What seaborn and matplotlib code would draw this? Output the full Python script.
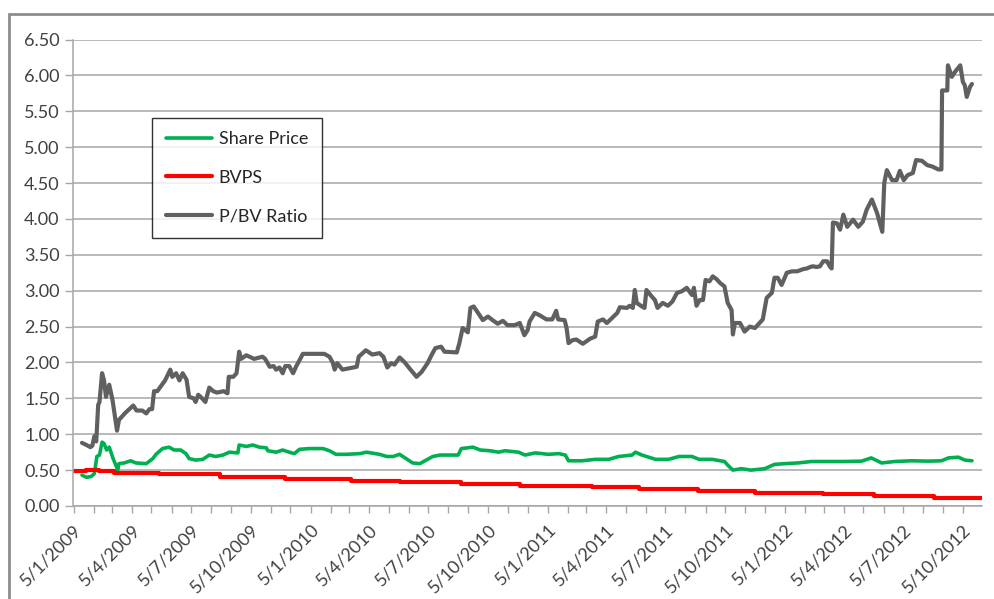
import pandas as pd
import matplotlib.pyplot as plt
import matplotlib.dates as mdates
from matplotlib.ticker import FuncFormatter
from matplotlib.patches import Rectangle
import seaborn as sns

# P/BV ratio
pbv_dates = [
    "2009-01-18", "2009-01-25", "2009-01-31", "2009-02-03", "2009-02-06", "2009-02-09",
    "2009-02-12", "2009-02-14", "2009-02-18", "2009-02-21", "2009-02-24", "2009-03-01",
    "2009-03-06", "2009-03-09", "2009-03-13", "2009-03-16", "2009-03-21", "2009-03-26",
    "2009-04-01", "2009-04-07", "2009-04-12", "2009-04-21", "2009-04-27", "2009-05-02",
    "2009-05-06", "2009-05-09", "2009-05-14", "2009-05-22", "2009-05-26", "2009-06-03",
    "2009-06-06", "2009-06-12", "2009-06-17", "2009-06-22", "2009-06-28", "2009-07-02",
    "2009-07-09", "2009-07-12", "2009-07-16", "2009-07-22", "2009-07-27", "2009-07-30",
    "2009-08-02", "2009-08-08", "2009-08-14", "2009-08-24", "2009-08-30", "2009-09-01",
    "2009-09-08", "2009-09-13", "2009-09-17", "2009-09-20", "2009-09-28", "2009-10-10",
    "2009-10-23", "2009-10-27", "2009-11-03", "2009-11-09", "2009-11-13", "2009-11-18",
    "2009-11-23", "2009-11-27", "2009-12-03", "2009-12-09", "2009-12-14", "2009-12-20",
    "2009-12-24", "2010-01-11", "2010-01-26", "2010-02-03", "2010-02-08", "2010-02-11",
    "2010-02-15", "2010-02-23", "2010-03-06", "2010-03-17", "2010-03-20", "2010-03-31",
    "2010-04-10", "2010-04-21", "2010-04-27", "2010-05-03", "2010-05-09", "2010-05-14",
    "2010-05-22", "2010-05-30", "2010-06-06", "2010-06-17", "2010-06-25", "2010-07-04",
    "2010-07-10", "2010-07-16", "2010-07-25", "2010-07-30", "2010-08-18", "2010-08-22",
    "2010-08-27", "2010-09-04", "2010-09-08", "2010-09-13", "2010-09-22", "2010-09-27",
    "2010-10-05", "2010-10-12", "2010-10-20", "2010-10-28", "2010-11-04", "2010-11-15",
    "2010-11-23", "2010-11-30", "2010-12-05", "2010-12-08", "2010-12-16", "2010-12-23",
    "2011-01-03", "2011-01-12", "2011-01-18", "2011-01-21", "2011-01-31", "2011-02-03",
    "2011-02-06", "2011-02-12", "2011-02-18", "2011-02-28", "2011-03-11", "2011-03-19",
    "2011-03-23", "2011-03-31", "2011-04-06", "2011-04-14", "2011-04-22", "2011-04-26",
    "2011-05-07", "2011-05-11", "2011-05-16", "2011-05-19", "2011-05-22", "2011-05-30",
    "2011-06-03", "2011-06-06", "2011-06-14", "2011-06-19", "2011-06-23", "2011-07-01",
    "2011-07-09", "2011-07-16", "2011-07-23", "2011-07-30", "2011-08-07", "2011-08-15",
    "2011-08-18", "2011-08-22", "2011-08-27", "2011-09-01", "2011-09-05", "2011-09-11",
    "2011-09-16", "2011-09-22", "2011-09-27", "2011-10-04", "2011-10-09", "2011-10-15",
    "2011-10-17", "2011-10-20", "2011-10-28", "2011-11-04", "2011-11-12", "2011-11-20",
    "2011-11-27", "2011-12-02", "2011-12-08", "2011-12-16", "2011-12-20", "2011-12-25",
    "2011-12-31", "2012-01-08", "2012-01-16", "2012-01-24", "2012-02-02", "2012-02-08",
    "2012-02-13", "2012-02-17", "2012-02-23", "2012-02-28", "2012-03-04", "2012-03-10",
    "2012-03-14", "2012-03-17", "2012-03-19", "2012-03-25", "2012-03-30", "2012-04-04",
    "2012-04-10", "2012-04-19", "2012-04-27", "2012-05-04", "2012-05-10", "2012-05-18",
    "2012-05-26", "2012-06-03", "2012-06-06", "2012-06-10", "2012-06-18", "2012-06-25",
    "2012-06-30", "2012-07-06", "2012-07-12", "2012-07-20", "2012-07-25", "2012-08-03",
    "2012-08-11", "2012-08-19", "2012-08-28", "2012-09-02", "2012-09-03", "2012-09-11",
    "2012-09-12", "2012-09-18", "2012-09-23", "2012-10-01", "2012-10-05", "2012-10-08",
    "2012-10-11", "2012-10-16", "2012-10-19",
]
pbv_values = [
    0.88, 0.85, 0.82, 0.84, 0.97, 0.90,
    1.41, 1.45, 1.85, 1.75, 1.52, 1.69,
    1.48, 1.30, 1.05, 1.20, 1.25, 1.30,
    1.35, 1.40, 1.33, 1.33, 1.29, 1.35,
    1.35, 1.60, 1.60, 1.70, 1.75, 1.90,
    1.80, 1.85, 1.75, 1.85, 1.76, 1.52,
    1.50, 1.45, 1.55, 1.50, 1.45, 1.55,
    1.65, 1.60, 1.58, 1.60, 1.57, 1.80,
    1.80, 1.85, 2.15, 2.05, 2.10, 2.05,
    2.08, 2.05, 1.94, 1.95, 1.90, 1.93,
    1.85, 1.95, 1.95, 1.85, 1.95, 2.05,
    2.12, 2.12, 2.12, 2.08, 2.00, 1.90,
    1.99, 1.90, 1.92, 1.94, 2.08, 2.17,
    2.11, 2.13, 2.08, 1.93, 1.99, 1.97,
    2.07, 2.00, 1.92, 1.80, 1.87, 1.99,
    2.10, 2.20, 2.22, 2.15, 2.14, 2.27,
    2.48, 2.42, 2.76, 2.78, 2.66, 2.59,
    2.64, 2.59, 2.54, 2.58, 2.52, 2.52,
    2.55, 2.38, 2.45, 2.57, 2.69, 2.66,
    2.60, 2.60, 2.72, 2.60, 2.59, 2.48,
    2.27, 2.31, 2.32, 2.26, 2.33, 2.36,
    2.57, 2.60, 2.55, 2.62, 2.69, 2.77,
    2.76, 2.79, 2.76, 3.01, 2.83, 2.78,
    2.76, 3.01, 2.92, 2.87, 2.76, 2.83,
    2.79, 2.85, 2.97, 2.99, 3.04, 2.94,
    3.04, 2.79, 2.87, 2.87, 3.15, 3.13,
    3.20, 3.16, 3.11, 3.06, 2.83, 2.73,
    2.39, 2.55, 2.55, 2.43, 2.50, 2.48,
    2.55, 2.60, 2.90, 2.97, 3.18, 3.18,
    3.08, 3.25, 3.27, 3.27, 3.30, 3.31,
    3.33, 3.34, 3.33, 3.34, 3.41, 3.41,
    3.34, 3.31, 3.95, 3.94, 3.85, 4.06,
    3.89, 3.99, 3.89, 3.96, 4.13, 4.27,
    4.08, 3.82, 4.50, 4.68, 4.54, 4.54,
    4.67, 4.54, 4.61, 4.64, 4.82, 4.81,
    4.75, 4.73, 4.69, 4.69, 5.79, 5.79,
    6.14, 5.98, 6.05, 6.14, 5.91, 5.86,
    5.70, 5.84, 5.88,
]

# Share price
price_dates = [
    "2009-01-18", "2009-01-25", "2009-02-01", "2009-02-06", "2009-02-10", "2009-02-14",
    "2009-02-18", "2009-02-21", "2009-02-25", "2009-03-01", "2009-03-07", "2009-03-12",
    "2009-03-14", "2009-03-16", "2009-03-24", "2009-04-03", "2009-04-11", "2009-04-27",
    "2009-05-07", "2009-05-12", "2009-05-22", "2009-06-01", "2009-06-09", "2009-06-19",
    "2009-06-27", "2009-07-02", "2009-07-12", "2009-07-23", "2009-08-02", "2009-08-12",
    "2009-08-23", "2009-09-02", "2009-09-15", "2009-09-17", "2009-09-28", "2009-10-08",
    "2009-10-18", "2009-10-29", "2009-10-31", "2009-11-13", "2009-11-23", "2009-12-03",
    "2009-12-11", "2009-12-19", "2010-01-03", "2010-01-24", "2010-02-03", "2010-02-13",
    "2010-03-01", "2010-03-22", "2010-04-01", "2010-04-21", "2010-05-02", "2010-05-12",
    "2010-05-22", "2010-06-01", "2010-06-11", "2010-06-22", "2010-07-02", "2010-07-12",
    "2010-07-23", "2010-08-02", "2010-08-20", "2010-08-25", "2010-09-12", "2010-09-23",
    "2010-10-08", "2010-10-21", "2010-10-31", "2010-11-21", "2010-12-01", "2010-12-17",
    "2011-01-06", "2011-01-22", "2011-02-01", "2011-02-06", "2011-02-27", "2011-03-19",
    "2011-04-09", "2011-04-24", "2011-05-15", "2011-05-20", "2011-05-30", "2011-06-20",
    "2011-07-10", "2011-07-26", "2011-08-15", "2011-08-26", "2011-09-15", "2011-10-04",
    "2011-10-09", "2011-10-17", "2011-10-30", "2011-11-14", "2011-12-05", "2011-12-20",
    "2012-01-05", "2012-01-25", "2012-02-15", "2012-03-11", "2012-04-06", "2012-05-02",
    "2012-05-17", "2012-06-02", "2012-06-22", "2012-07-18", "2012-08-13", "2012-09-02",
    "2012-09-13", "2012-09-28", "2012-10-08", "2012-10-19",
]
price_values = [
    0.43, 0.40, 0.41, 0.45, 0.69, 0.71,
    0.89, 0.87, 0.78, 0.82, 0.66, 0.55,
    0.50, 0.59, 0.60, 0.63, 0.60, 0.59,
    0.66, 0.72, 0.80, 0.82, 0.78, 0.78,
    0.73, 0.66, 0.64, 0.65, 0.71, 0.69,
    0.71, 0.75, 0.74, 0.85, 0.83, 0.85,
    0.82, 0.81, 0.77, 0.75, 0.78, 0.75,
    0.73, 0.79, 0.80, 0.80, 0.77, 0.72,
    0.72, 0.73, 0.75, 0.72, 0.69, 0.69,
    0.72, 0.66, 0.60, 0.59, 0.64, 0.69,
    0.71, 0.71, 0.71, 0.80, 0.82, 0.78,
    0.77, 0.75, 0.77, 0.75, 0.71, 0.74,
    0.72, 0.73, 0.71, 0.63, 0.63, 0.65,
    0.65, 0.69, 0.71, 0.75, 0.71, 0.65,
    0.65, 0.69, 0.69, 0.65, 0.65, 0.62,
    0.57, 0.50, 0.52, 0.50, 0.52, 0.58,
    0.59, 0.60, 0.62, 0.62, 0.62, 0.625,
    0.67, 0.60, 0.62, 0.63, 0.625, 0.63,
    0.67, 0.68, 0.64, 0.63,
]

# BVPS changes in steps
bvps_dates = [
    "2009-01-05", "2009-01-24", "2009-02-14", "2009-03-09", "2009-05-16", "2009-08-19",
    "2009-11-27", "2010-03-08", "2010-05-22", "2010-08-25", "2010-11-23", "2011-03-14",
    "2011-05-25", "2011-08-24", "2011-11-20", "2012-03-03", "2012-05-21", "2012-08-21",
    "2012-11-04",
]
bvps_values = [
    0.49, 0.50, 0.49, 0.46, 0.44, 0.41,
    0.375, 0.35, 0.33, 0.30, 0.28, 0.26,
    0.23, 0.21, 0.185, 0.167, 0.14, 0.11,
    0.11,
]

price = pd.DataFrame({"date": pd.to_datetime(price_dates), "value": price_values})
bvps = pd.DataFrame({"date": pd.to_datetime(bvps_dates), "value": bvps_values})
pbv = pd.DataFrame({"date": pd.to_datetime(pbv_dates), "value": pbv_values})

sns.set_theme(style="white")
plt.rcParams["font.family"] = ["Lato", "DejaVu Sans"]

fig = plt.figure(figsize=(9.95, 5.99), dpi=100)
ax = fig.add_axes([73.5 / 995, 1 - 506 / 599, (981.7 - 73.5) / 995, (506 - 39.5) / 599])

sns.lineplot(data=price, x="date", y="value", ax=ax, color="#00B050", lw=2.6, label="Share Price")
sns.lineplot(data=bvps, x="date", y="value", ax=ax, color="#FF0000", lw=3.0,
             drawstyle="steps-post", label="BVPS")
sns.lineplot(data=pbv, x="date", y="value", ax=ax, color="#606060", lw=3.0, label="P/BV Ratio")

ax.set_xlim(pd.Timestamp("2009-01-05"), pd.Timestamp("2012-11-03"))
ax.set_ylim(0, 6.5)
ax.set_yticks([i * 0.5 for i in range(14)])
ax.yaxis.set_major_formatter(FuncFormatter(lambda v, p: f"{v:.2f}"))
ax.grid(axis="y", color="#A6A6A6", lw=1.1)
ax.set_axisbelow(True)

ax.xaxis.set_major_locator(mdates.MonthLocator(bymonth=[1, 4, 7, 10], bymonthday=5))
ax.xaxis.set_minor_locator(mdates.MonthLocator(bymonthday=5))
ax.xaxis.set_major_formatter(FuncFormatter(
    lambda v, p: f"{mdates.num2date(v).day}/{mdates.num2date(v).month}/{mdates.num2date(v).year}"))
for lbl in ax.get_xticklabels():
    lbl.set_rotation(45)
    lbl.set_ha("right")
    lbl.set_rotation_mode("anchor")

ax.tick_params(axis="x", which="both", direction="out", length=5, width=1, color="#A6A6A6",
               labelsize=13, labelcolor="#404040", bottom=True, pad=6)
ax.tick_params(axis="y", direction="out", length=6, width=1, color="#A6A6A6",
               labelsize=13, labelcolor="#404040", left=True, pad=4)
ax.set_xlabel("")
ax.set_ylabel("")
for side in ["top", "right"]:
    ax.spines[side].set_visible(False)
ax.spines["left"].set_color("#A6A6A6")
ax.spines["bottom"].set_color("#A6A6A6")
ax.spines["left"].set_linewidth(1.1)
ax.spines["bottom"].set_linewidth(1.1)

leg = ax.legend(loc="upper left", bbox_to_anchor=((152 - 73.5) / 908.2, (506 - 117.7) / 466.5),
                frameon=True, fancybox=False, fontsize=13, handlelength=2.6, handletextpad=0.35,
                labelspacing=1.25, borderpad=0.75, borderaxespad=0)
leg.get_frame().set_edgecolor("#000000")
leg.get_frame().set_linewidth(1.0)
for t in leg.get_texts():
    t.set_color("#262626")

# outer chart border (partly cut off by the image edge)
fig.patches.append(Rectangle((9 / 995, -0.1), 1.2, 1 - 14 / 599 + 0.1, transform=fig.transFigure,
                             fill=False, edgecolor="#8C8C8C", lw=2))

fig.savefig("out.png", dpi=100)
